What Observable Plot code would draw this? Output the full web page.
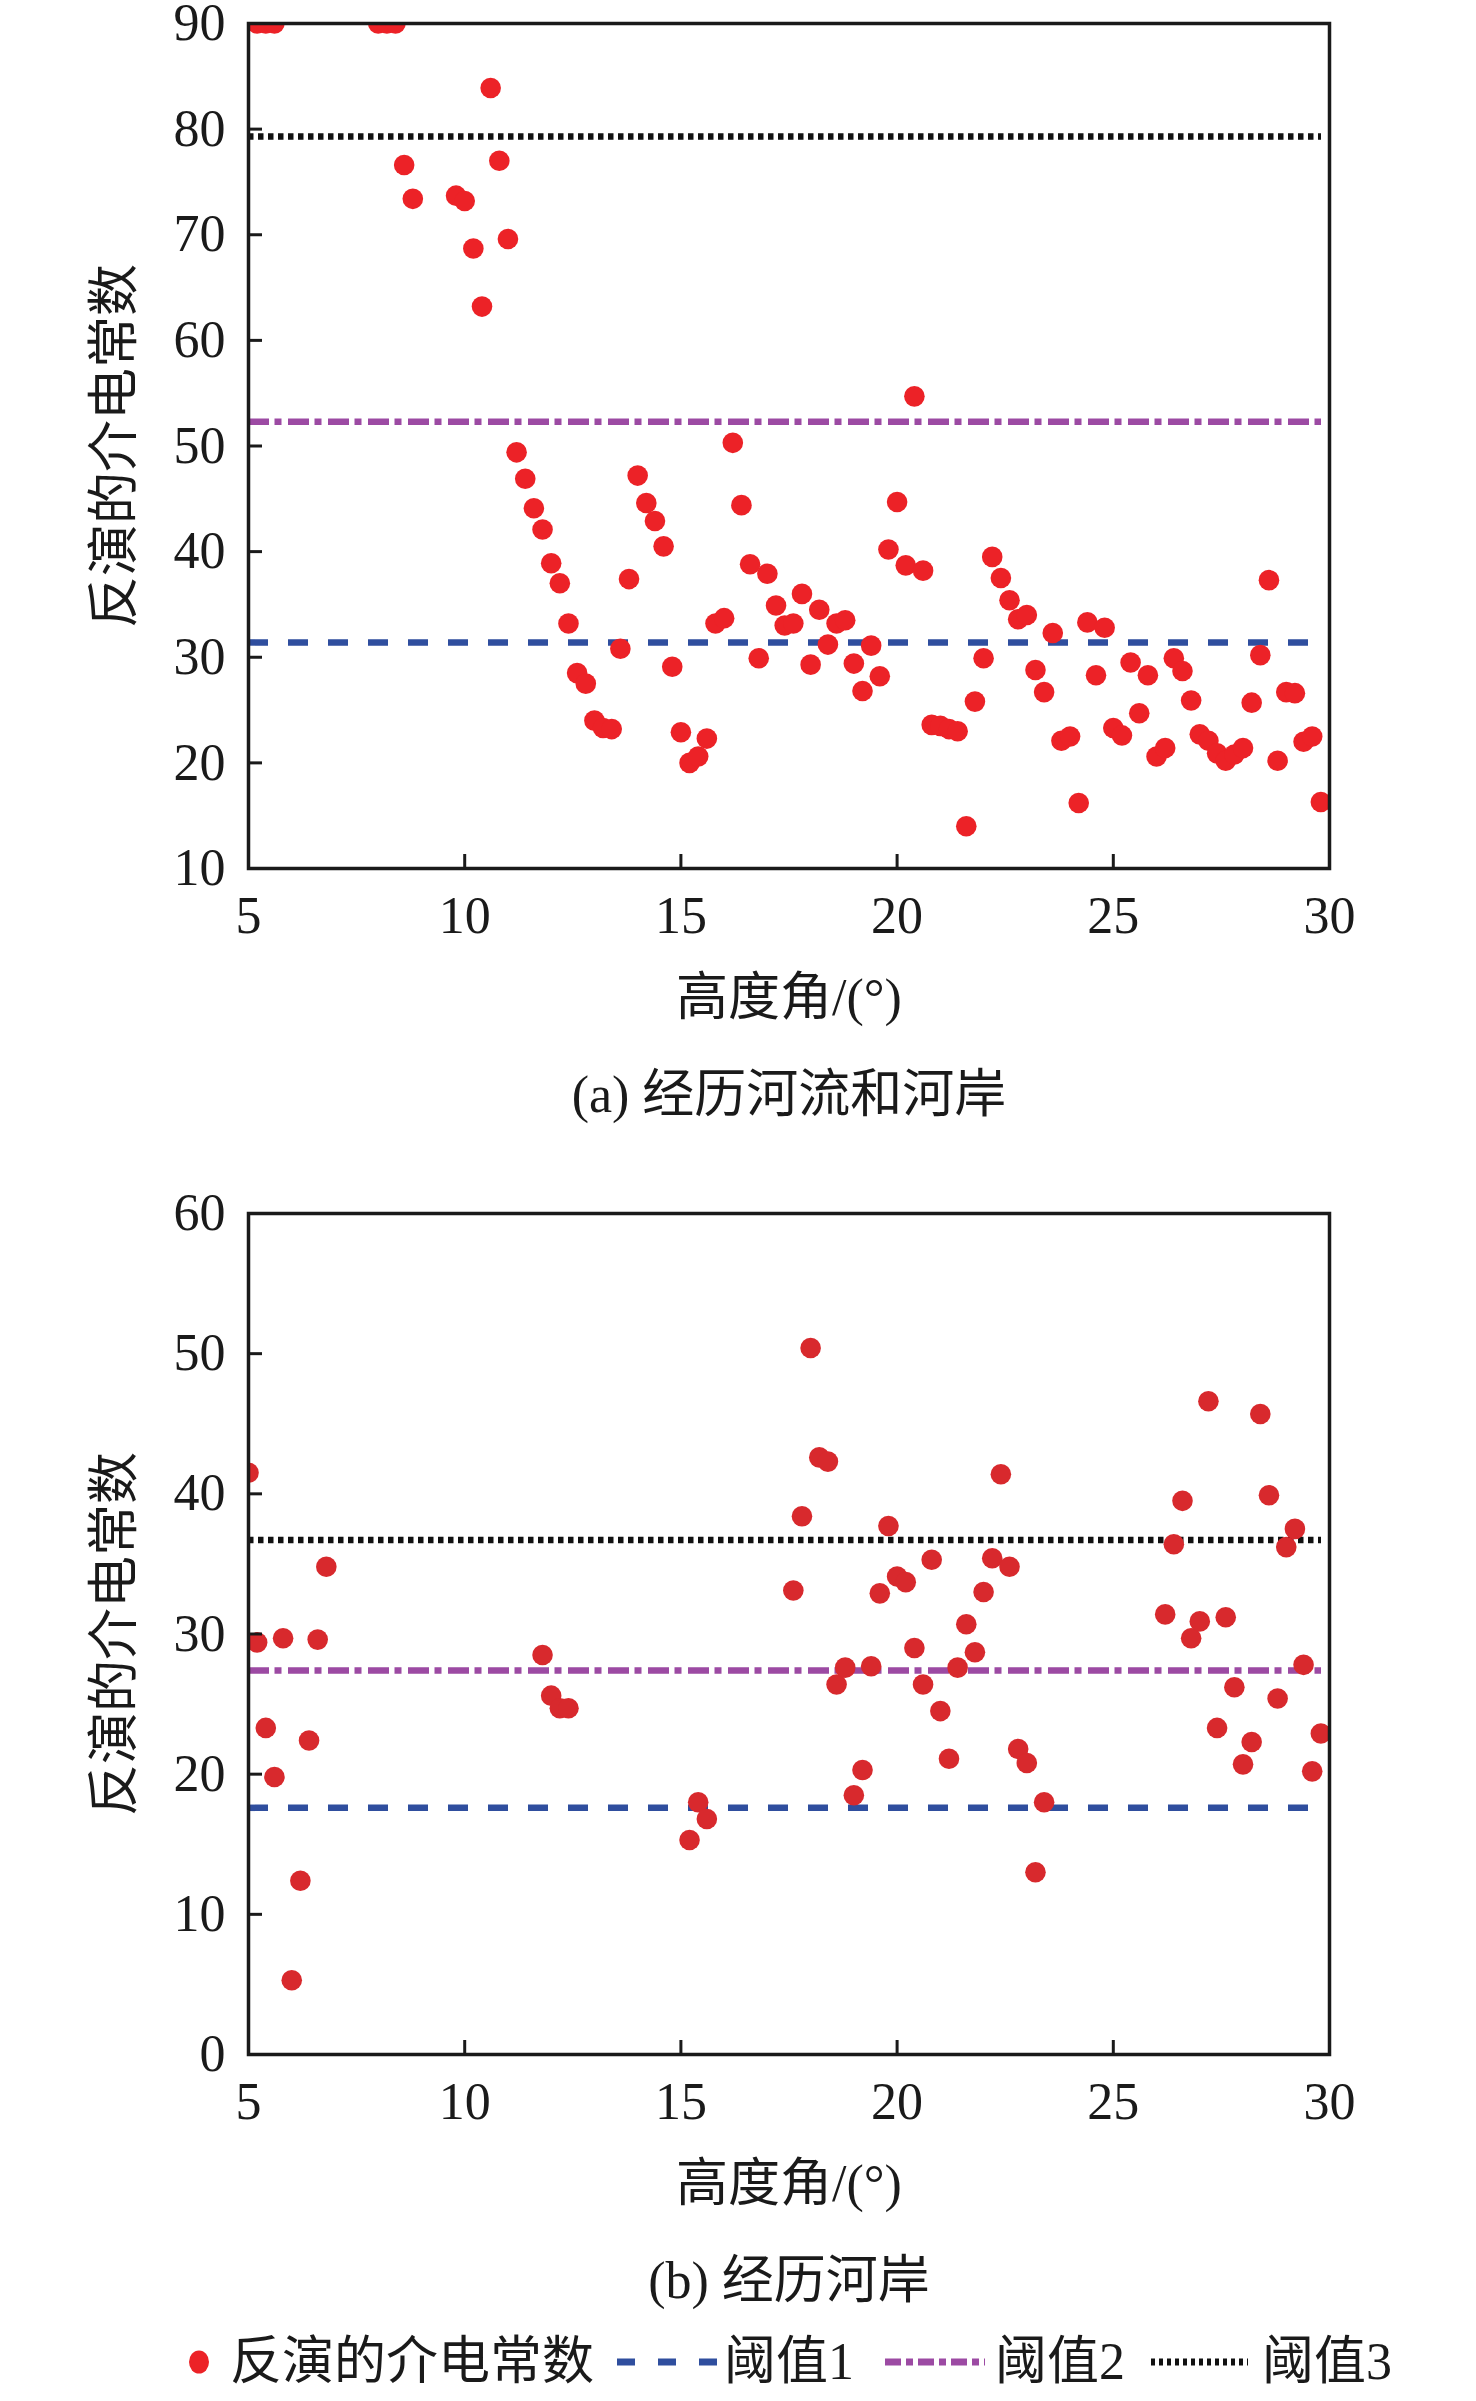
<!DOCTYPE html>
<html><head><meta charset="utf-8">
<script src="https://cdn.jsdelivr.net/npm/d3@7"></script>
<script src="https://cdn.jsdelivr.net/npm/@observablehq/plot@0.6"></script>
<style>
html,body{margin:0;padding:0;background:#fff;}
#root{position:relative;width:1476px;height:2401px;font-family:'Liberation Serif','Times New Roman','Noto Sans CJK SC',serif;color:#1a1a1a;background:#fff;}
#root svg{display:block;}
#legend{position:relative;width:1476px;height:85px;}
#legend span{position:absolute;top:20px;font-size:52px;line-height:52px;white-space:nowrap;}
#legend svg{position:absolute;left:0;top:0;}
</style></head><body><div id="root"></div>
<script>
// ---------- data ----------
const xTicks = [5, 10, 15, 20, 25, 30];
const aYTicks = [10, 20, 30, 40, 50, 60, 70, 80, 90];
const bYTicks = [0, 10, 20, 30, 40, 50, 60];

const aX = [5.2,5.4,5.6,8.0,8.2,8.4,8.6,8.8,9.8,10.0,10.2,10.4,10.6,10.8,11.0,
  11.2,11.4,11.6,11.8,12.0,12.2,12.4,12.6,12.8,13.0,13.2,13.4,13.6,13.8,14.0,
  14.2,14.4,14.6,14.8,15.0,15.2,15.4,15.6,15.8,16.0,16.2,16.4,16.6,16.8,17.0,
  17.2,17.4,17.6,17.8,18.0,18.2,18.4,18.6,18.8,19.0,19.2,19.4,19.6,19.8,20.0,
  20.2,20.4,20.6,20.8,21.0,21.2,21.4,21.6,21.8,22.0,22.2,22.4,22.6,22.8,23.0,
  23.2,23.4,23.6,23.8,24.0,24.2,24.4,24.6,24.8,25.0,25.2,25.4,25.6,25.8,26.0,
  26.2,26.4,26.6,26.8,27.0,27.2,27.4,27.6,27.8,28.0,28.2,28.4,28.6,28.8,29.0,
  29.2,29.4,29.6,29.8];
const aY = [90,90,90,90,90,90,76.6,73.4,73.7,73.2,68.7,63.2,83.9,77.0,69.6,
  49.4,46.9,44.1,42.1,38.9,37.0,33.2,28.5,27.5,24.0,23.3,23.2,30.8,37.4,47.2,
  44.6,42.9,40.5,29.1,22.9,20.0,20.6,22.3,33.2,33.7,50.3,44.4,38.8,29.9,37.9,
  34.9,33.0,33.2,36.0,29.3,34.5,31.2,33.2,33.5,29.4,26.8,31.1,28.2,40.2,44.7,
  38.7,54.7,38.2,23.6,23.5,23.2,23.0,14.0,25.8,29.9,39.5,37.5,35.4,33.6,34.0,
  28.8,26.7,32.3,22.1,22.5,16.2,33.3,28.3,32.8,23.3,22.6,29.5,24.7,28.3,20.6,
  21.4,29.9,28.7,25.9,22.7,22.1,20.9,20.2,20.8,21.4,25.7,30.2,37.3,20.2,26.7,
  26.6,22.0,22.5,16.3];

const bX = [5.0,5.2,5.4,5.6,5.8,6.0,6.2,6.4,6.6,6.8,
  11.8,12.0,12.2,12.4,
  15.2,15.4,15.6,
  17.6,17.8,18.0,18.2,18.4,18.6,18.8,19.0,19.2,19.4,19.6,19.8,20.0,20.2,20.4,
  20.6,20.8,21.0,21.2,21.4,21.6,21.8,22.0,22.2,22.4,22.6,22.8,23.0,23.2,23.4,
  26.2,26.4,26.6,26.8,27.0,27.2,27.4,27.6,27.8,28.0,28.2,28.4,28.6,28.8,29.0,
  29.2,29.4,29.6,29.8];
const bY = [41.5,29.4,23.3,19.8,29.7,5.3,12.4,22.4,29.6,34.8,
  28.5,25.6,24.7,24.7,
  15.3,18.0,16.8,
  33.1,38.4,50.4,42.6,42.3,26.4,27.6,18.5,20.3,27.7,32.9,37.7,34.1,33.7,29.0,
  26.4,35.3,24.5,21.1,27.6,30.7,28.7,33.0,35.4,41.4,34.8,21.8,20.8,13.0,18.0,
  31.4,36.4,39.5,29.7,30.9,46.6,23.3,31.2,26.2,20.7,22.3,45.7,39.9,25.4,36.2,
  37.5,27.8,20.2,22.9];

const aThresholds = [31.4, 52.3, 79.3];   // 阈值1, 阈值2, 阈值3
const bThresholds = [17.6, 27.4, 36.7];

const seriesNames = ["反演的介电常数", "阈值1", "阈值2", "阈值3"];
const xLabel = "高度角/(°)";
const yLabel = "反演的介电常数";
const captions = ["(a) 经历河流和河岸", "(b) 经历河岸"];

// ---------- styles ----------
const FONT = "'Liberation Serif','Times New Roman','Noto Sans CJK SC',serif";
const INK = "#1a1a1a";
const BLUE = "#2f4e9e", PURPLE = "#9c4aa3", BLACK = "#111111";
const DASH = {blue: "20,20", purple: "21,5.5,7,6.5", black: "5.5,4.5"};

function panel({xs, ys, th, yDomain, yTicks, caption, height, marginTop, marginBottom, dotFill, dotR}) {
  const pts = xs.map((x, i) => ({x, y: ys[i]}));
  return Plot.plot({
    width: 1476, height, marginTop, marginBottom, marginLeft: 248, marginRight: 147,
    style: {fontFamily: FONT, fontSize: "52px", background: "transparent", color: INK, overflow: "visible"},
    x: {domain: [5, 30]},
    y: {domain: yDomain},
    marks: [
      Plot.ruleY([th[2]], {stroke: BLACK, strokeWidth: 6.5, strokeDasharray: DASH.black, insetRight: 8}),
      Plot.ruleY([th[1]], {stroke: PURPLE, strokeWidth: 6.5, strokeDasharray: DASH.purple, insetRight: 8}),
      Plot.ruleY([th[0]], {stroke: BLUE, strokeWidth: 6.5, strokeDasharray: DASH.blue, insetRight: 8}),
      Plot.dot(pts, {x: "x", y: "y", r: dotR, fill: dotFill, stroke: "none", clip: true}),
      Plot.frame({stroke: INK, strokeWidth: 3.5}),
      Plot.axisX(xTicks, {tickSize: -14, strokeWidth: 3, tickPadding: 42, fontSize: 52, label: null, tickFormat: d => String(d)}),
      Plot.axisY(yTicks, {tickSize: -14, strokeWidth: 3, tickPadding: 37, fontSize: 52, label: null, tickFormat: d => String(d)}),
      Plot.text([xLabel], {text: d => d, frameAnchor: "bottom", dy: 130, fontSize: 52, lineAnchor: "middle", textAnchor: "middle", fill: INK}),
      Plot.text([caption], {text: d => d, frameAnchor: "bottom", dy: 227, fontSize: 52, lineAnchor: "middle", textAnchor: "middle", fill: INK}),
      Plot.text([yLabel], {text: d => d, frameAnchor: "left", dx: -133, rotate: -90, fontSize: 52, lineAnchor: "middle", textAnchor: "middle", fill: INK})
    ]
  });
}

const root = document.getElementById("root");
root.appendChild(panel({xs: aX, ys: aY, th: aThresholds, yDomain: [10, 90], yTicks: aYTicks,
  caption: captions[0], height: 1140, marginTop: 23, marginBottom: 272, dotFill: "#ec2227", dotR: 10.3}));
root.appendChild(panel({xs: bX, ys: bY, th: bThresholds, yDomain: [0, 60], yTicks: bYTicks,
  caption: captions[1], height: 1176, marginTop: 73, marginBottom: 262, dotFill: "#d8292d", dotR: 10.3}));

// ---------- legend ----------
const leg = document.createElement("div");
leg.id = "legend";
leg.innerHTML = `
<svg width="1476" height="85">
  <ellipse cx="199" cy="46" rx="10" ry="11.5" fill="#ec2227"/>
  <line x1="617" x2="717" y1="46" y2="46" stroke="${BLUE}" stroke-width="7" stroke-dasharray="18,23"/>
  <line x1="885" x2="985" y1="46" y2="46" stroke="${PURPLE}" stroke-width="7" stroke-dasharray="16,5,7,5"/>
  <line x1="1151" x2="1248" y1="46" y2="46" stroke="${BLACK}" stroke-width="7" stroke-dasharray="4,4"/>
</svg>
<span style="left:230px">${seriesNames[0]}</span>
<span style="left:724px">${seriesNames[1]}</span>
<span style="left:995px">${seriesNames[2]}</span>
<span style="left:1262px">${seriesNames[3]}</span>`;
root.appendChild(leg);
</script>
</body></html>
